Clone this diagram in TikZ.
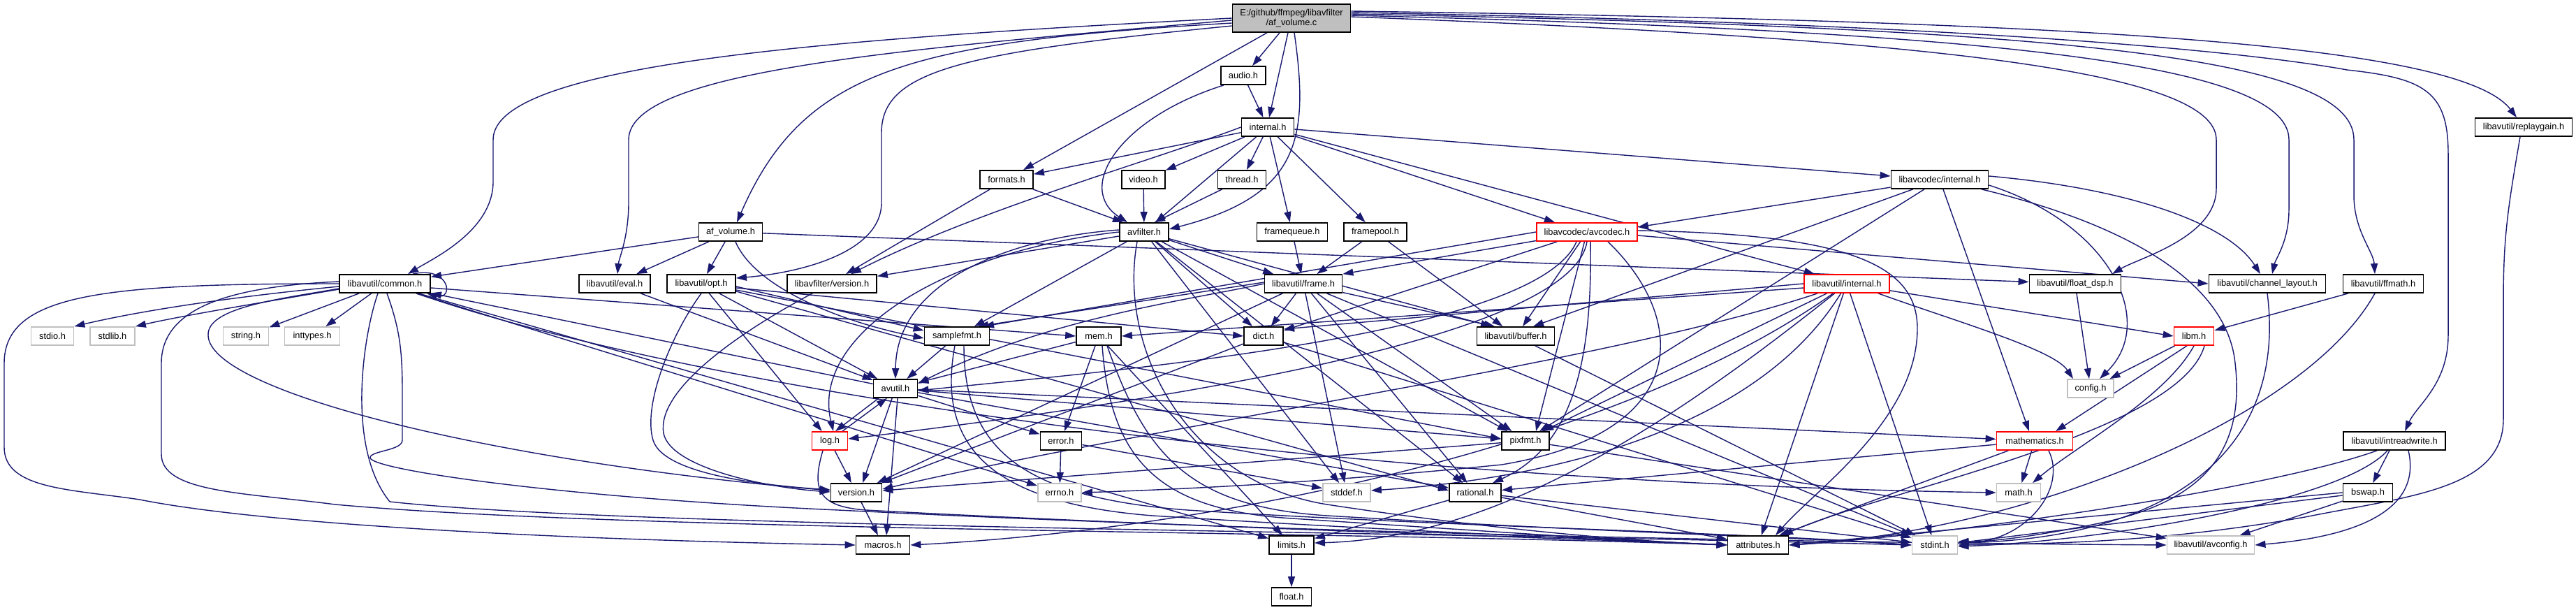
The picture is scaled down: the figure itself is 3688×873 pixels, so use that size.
\documentclass[tikz,border=0pt]{standalone}
\usepackage{fontspec}
\setmainfont{Liberation Sans}
\usetikzlibrary{arrows.meta}
\definecolor{eb}{RGB}{25,25,112}
\definecolor{sysg}{RGB}{191,191,191}
\pgfdeclarelayer{bg}
\pgfsetlayers{bg,main}
\newcommand{\dxf}{\fontsize{3.65}{4.0}\selectfont}
\begin{document}
\begin{tikzpicture}[x=0.01cm,y=-0.01cm,
  nd/.style={draw=black,fill=white,line width=0.5pt,minimum height=0.26cm,inner sep=0pt,font=\dxf},
  sys/.style={nd,draw=sysg},
  trunc/.style={nd,draw=red},
  e/.style={draw=eb,line width=0.4pt,-{Triangle[length=0.15cm,width=0.1cm]}}]
\path[use as bounding box] (0,0) rectangle (3688,873);
% nodes
\node[nd,minimum width=1.69cm,minimum height=0.40cm,fill=sysg,align=center] (root) at (1849,26) {E:/github/ffmpeg/libavfilter\\/af\_volume.c};
\node[nd,minimum width=0.64cm] (audio) at (1780,108) {audio.h};
\node[nd,minimum width=0.75cm] (internal) at (1815,182) {internal.h};
\node[nd,minimum width=0.76cm] (formats) at (1441,257) {formats.h};
\node[nd,minimum width=0.62cm] (video) at (1637,257) {video.h};
\node[nd,minimum width=0.69cm] (thread) at (1778,257) {thread.h};
\node[nd,minimum width=0.91cm] (afvolh) at (1046,332) {af\_volume.h};
\node[nd,minimum width=0.70cm] (avfilter) at (1638,332) {avfilter.h};
\node[nd,minimum width=1.01cm] (framequeue) at (1850,332) {framequeue.h};
\node[nd,minimum width=0.90cm] (framepool) at (1969,332) {framepool.h};
\node[trunc,minimum width=1.44cm] (avcodec) at (2272,332) {libavcodec/avcodec.h};
\node[nd,minimum width=1.39cm] (lcinternal) at (2777,257) {libavcodec/internal.h};
\node[nd,minimum width=1.39cm] (replaygain) at (3613,182) {libavutil/replaygain.h};
\node[nd,minimum width=1.30cm] (common) at (551,406) {libavutil/common.h};
\node[nd,minimum width=1.02cm] (eval) at (880,406) {libavutil/eval.h};
\node[nd,minimum width=0.98cm] (opt) at (1004,406) {libavutil/opt.h};
\node[nd,minimum width=1.28cm] (lfversion) at (1191,406) {libavfilter/version.h};
\node[nd,minimum width=1.11cm] (frame) at (1866,406) {libavutil/frame.h};
\node[trunc,minimum width=1.22cm] (luinternal) at (2644,406) {libavutil/internal.h};
\node[nd,minimum width=1.31cm] (floatdsp) at (2971,406) {libavutil/float\_dsp.h};
\node[nd,minimum width=1.67cm] (chlayout) at (3246,406) {libavutil/channel\_layout.h};
\node[nd,minimum width=1.15cm] (ffmath) at (3412,406) {libavutil/ffmath.h};
\node[sys,minimum width=0.61cm] (stdio) at (75,481) {stdio.h};
\node[sys,minimum width=0.64cm] (stdlib) at (161,481) {stdlib.h};
\node[sys,minimum width=0.65cm] (string) at (352,481) {string.h};
\node[sys,minimum width=0.79cm] (inttypes) at (447,481) {inttypes.h};
\node[nd,minimum width=0.93cm] (samplefmt) at (1370,481) {samplefmt.h};
\node[nd,minimum width=0.64cm] (mem) at (1573,481) {mem.h};
\node[nd,minimum width=0.56cm] (dict) at (1809,481) {dict.h};
\node[nd,minimum width=1.11cm] (buffer) at (2170,481) {libavutil/buffer.h};
\node[trunc,minimum width=0.57cm] (libm) at (3141,481) {libm.h};
\node[nd,minimum width=0.63cm] (avutil) at (1282,556) {avutil.h};
\node[sys,minimum width=0.66cm] (config) at (2993,556) {config.h};
\node[trunc,minimum width=0.51cm] (log) at (1188,631) {log.h};
\node[nd,minimum width=0.59cm] (error) at (1519,631) {error.h};
\node[nd,minimum width=0.68cm] (pixfmt) at (2184,631) {pixfmt.h};
\node[trunc,minimum width=1.09cm] (mathematics) at (2913,631) {mathematics.h};
\node[nd,minimum width=1.46cm] (intreadwrite) at (3428,631) {libavutil/intreadwrite.h};
\node[nd,minimum width=0.73cm] (version) at (1226,705) {version.h};
\node[sys,minimum width=0.62cm] (errno) at (1517,705) {errno.h};
\node[sys,minimum width=0.68cm] (stddef) at (1928,705) {stddef.h};
\node[nd,minimum width=0.74cm] (rational) at (2112,705) {rational.h};
\node[sys,minimum width=0.63cm] (math) at (2890,705) {math.h};
\node[nd,minimum width=0.71cm] (bswap) at (3390,705) {bswap.h};
\node[nd,minimum width=0.77cm] (macros) at (1264,780) {macros.h};
\node[nd,minimum width=0.64cm] (limits) at (1849,780) {limits.h};
\node[nd,minimum width=0.87cm] (attributes) at (2517,780) {attributes.h};
\node[sys,minimum width=0.65cm] (stdint) at (2770,780) {stdint.h};
\node[sys,minimum width=1.25cm] (avconfig) at (3165,780) {libavutil/avconfig.h};
\node[nd,minimum width=0.57cm] (float) at (1849,854) {float.h};
\begin{pgfonlayer}{bg}
\fill[white] (0,0) rectangle (3688,873);
% root
\draw[e] (root.west) .. controls (1200,55) and (706,90) .. (706,200) -- (706,260) .. controls (706,330) and (620,370) .. ([xshift=0.33cm]common.north);
\draw[e] ([yshift=-0.03cm]root.west) .. controls (1300,70) and (900,100) .. (900,200) -- (900,290) .. controls (900,340) and (886,370) .. ([xshift=0.04cm]eval.north);
\draw[e] ([yshift=-0.07cm]root.west) .. controls (1300,60) and (1150,100) .. ([xshift=0.09cm]afvolh.north);
\draw[e] ([yshift=-0.11cm]root.west) .. controls (1380,75) and (1262,100) .. (1262,190) -- (1262,290) .. controls (1262,360) and (1150,390) .. ([yshift=0.08cm]opt.east);
\draw[e] ([xshift=-0.35cm]root.south) -- ([xshift=0.24cm]formats.north);
\draw[e] ([xshift=-0.17cm]root.south) -- ([xshift=0.13cm]audio.north);
\draw[e] ([xshift=-0.05cm]root.south) -- ([xshift=0.02cm]internal.north);
\draw[e] ([xshift=0.04cm]root.south) .. controls (1875,200) and (1860,280) .. ([yshift=0.04cm]avfilter.east);
\draw[e] ([yshift=0.02cm]root.east) .. controls (2750,55) and (3173,100) .. (3173,200) -- (3173,270) .. controls (3173,340) and (3060,370) .. ([xshift=0.53cm]floatdsp.north);
\draw[e] ([yshift=0.04cm]root.east) .. controls (2850,45) and (3277,90) .. (3277,200) -- (3277,300) .. controls (3277,345) and (3258,370) .. ([xshift=0.07cm]chlayout.north);
\draw[e] ([yshift=0.06cm]root.east) .. controls (2950,40) and (3370,80) .. (3370,200) -- (3370,280) .. controls (3370,330) and (3398,360) .. ([xshift=-0.12cm]ffmath.north);
\draw[e] ([yshift=0.08cm]root.east) .. controls (2900,35) and (3250,80) .. (3360,100) .. controls (3470,112) and (3505,130) .. (3505,220) -- (3505,480) .. controls (3505,550) and (3460,580) .. ([xshift=0.15cm]intreadwrite.north);
\draw[e] ([yshift=0.1cm]root.east) .. controls (2950,30) and (3520,60) .. ([xshift=-0.1cm]replaygain.north);
% audio
\draw[e] (audio) -- (internal);
\draw[e] ([xshift=-0.28cm]audio.south) .. controls (1600,170) and (1540,270) .. ([xshift=-0.24cm]avfilter.north);
% internal
\draw[e] (internal) -- (formats);
\draw[e] (internal.west) .. controls (1650,230) and (1400,300) .. ([xshift=0.27cm]lfversion.north);
\draw[e] (internal) -- (video);
\draw[e] (internal) -- (thread);
\draw[e] (internal) -- (avfilter);
\draw[e] (internal) -- (framequeue);
\draw[e] (internal) -- (framepool);
\draw[e] (internal) -- ([xshift=-0.46cm]avcodec.north);
\draw[e] (internal) -- ([yshift=0.05cm]lcinternal.west);
\draw[e] (internal) -- ([xshift=-0.46cm]luinternal.north);
% formats, video, thread
\draw[e] (formats) -- ([xshift=-0.3cm]avfilter.north);
\draw[e] (formats) -- ([xshift=0.2cm]lfversion.north);
\draw[e] (video) -- (avfilter);
\draw[e] (thread) -- ([xshift=0.15cm]avfilter.north);
% af_volume.h
\draw[e] (afvolh) -- (common);
\draw[e] (afvolh) -- (eval);
\draw[e] (afvolh) -- (opt);
\draw[e] (afvolh) -- (floatdsp);
\draw[e] ([xshift=0.07cm]afvolh.south) .. controls (1080,410) and (1200,460) .. ([yshift=-0.03cm]samplefmt.west);
% common
\draw[e] ([xshift=0.4cm]common.north) .. controls (645,380) and (650,430) .. ([xshift=0.6cm]common.south);
\draw[e] ([yshift=-0.04cm]common.west) .. controls (330,425) and (200,445) .. (stdio.north east);
\draw[e] ([yshift=-0.08cm]common.west) .. controls (380,432) and (260,452) .. (stdlib.north east);
\draw[e] (common) -- (string);
\draw[e] (common) -- (inttypes);
\draw[e] (common.west) .. controls (150,406) and (6,420) .. (6,520) -- (6,640) .. controls (6,700) and (100,700) .. (200,715) .. controls (350,745) and (700,770) .. (macros.west);
\draw[e] ([yshift=0.03cm]common.west) .. controls (330,410) and (231,440) .. (231,520) -- (231,650) .. controls (231,705) and (350,705) .. (480,722) .. controls (900,760) and (1900,760) .. (attributes.west);
\draw[e] ([yshift=-0.07cm]common.west) .. controls (400,428) and (296,440) .. (298,480) .. controls (300,560) and (700,660) .. ([yshift=0.03cm]version.west);
\draw[e] ([xshift=-0.1cm]common.south) .. controls (520,480) and (495,640) .. (558,718) .. controls (900,755) and (2000,760) .. (stdint.west);
\draw[e] ([xshift=0.03cm]common.south) .. controls (572,470) and (576,500) .. (576,560) -- (576,630) .. controls (576,645) and (530,645) .. (530,655) .. controls (530,672) and (800,712) .. (1200,730) .. controls (2000,770) and (2800,778) .. (avconfig.west);
\draw[e] (common) -- (errno);
\draw[e] (common) -- (limits);
\draw[e] ([xshift=0.45cm]common.south) .. controls (1000,560) and (1900,690) .. (math.west);
\draw[e] ([yshift=-0.06cm]common.east) -- (mem.west);
% eval, opt
\draw[e] (eval) -- (avutil);
\draw[e] ([yshift=-0.04cm]opt.east) -- ([yshift=0.08cm]samplefmt.west);
\draw[e] (opt) -- (avutil);
\draw[e] (opt) -- (log);
\draw[e] (opt.south) .. controls (960,480) and (920,580) .. (935,630) .. controls (950,680) and (1100,695) .. ([yshift=0.04cm]version.west);
\draw[e] ([yshift=-0.06cm]opt.east) -- (dict.west);
\draw[e] ([yshift=-0.09cm]opt.east) -- ([yshift=0.03cm]pixfmt.west);
\draw[e] ([yshift=-0.11cm]opt.east) -- ([yshift=0.03cm]rational.west);
% libavfilter/version.h
\draw[e] ([xshift=-0.28cm]lfversion.south) .. controls (1050,480) and (940,560) .. (950,620) .. controls (960,670) and (1100,698) .. ([yshift=0.01cm]version.west);
% avfilter.h
\draw[e] (avfilter) -- (lfversion);
\draw[e] (avfilter) -- (samplefmt);
\draw[e] ([yshift=0.03cm]avfilter.west) .. controls (1450,340) and (1283,400) .. (avutil.north);
\draw[e] (avfilter.west) .. controls (1350,360) and (1160,480) .. ([xshift=0.05cm]log.north);
\draw[e] (avfilter) -- (frame);
\draw[e] (avfilter) -- (dict);
\draw[e] (avfilter) -- ([xshift=-0.35cm]buffer.north);
\draw[e] (avfilter) -- (pixfmt);
\draw[e] (avfilter) -- (rational);
\draw[e] (avfilter) -- (stddef);
\draw[e] ([xshift=-0.1cm]avfilter.south) .. controls (1600,500) and (1700,690) .. (1900,722) .. controls (2150,760) and (2350,775) .. (attributes.west);
% frame.h
\draw[e] ([yshift=0.02cm]frame.west) -- ([xshift=0.3cm]samplefmt.north);
\draw[e] (frame.west) .. controls (1700,430) and (1500,455) .. ([yshift=0.07cm]avutil.east);
\draw[e] (frame) -- (dict);
\draw[e] (frame) -- ([xshift=-0.3cm]buffer.north);
\draw[e] (frame) -- (pixfmt);
\draw[e] (frame) -- (rational);
\draw[e] (frame) -- (stddef);
\draw[e] (frame) -- (stdint);
\draw[e] (frame) -- (version);
\draw[e] (framequeue) -- (frame);
\draw[e] (framepool) -- (frame);
\draw[e] (framepool) -- (buffer);
% avcodec.h
\draw[e] (avcodec.west) -- ([xshift=0.38cm]samplefmt.north);
\draw[e] (avcodec) -- (frame.north east);
\draw[e] (avcodec) -- ([yshift=0.08cm]dict.east);
\draw[e] (avcodec) -- ([xshift=0.1cm]buffer.north);
\draw[e] ([xshift=-0.15cm]avcodec.south) .. controls (2200,480) and (1600,530) .. ([yshift=-0.03cm]avutil.east);
\draw[e] (avcodec.south) .. controls (2250,480) and (1700,570) .. ([yshift=0.03cm]log.east);
\draw[e] (avcodec) -- ([xshift=0.15cm]pixfmt.north);
\draw[e] ([xshift=0.05cm]avcodec.south) .. controls (2280,520) and (2250,640) .. ([xshift=0.25cm]rational.north);
\draw[e] ([yshift=0.02cm]avcodec.east) .. controls (2650,335) and (2745,380) .. (2745,470) .. controls (2745,600) and (2600,700) .. ([xshift=0.25cm]attributes.north);
\draw[e] ([yshift=-0.05cm]avcodec.east) -- (chlayout.west);
\draw[e] ([xshift=0.3cm]avcodec.south) .. controls (2420,460) and (2420,620) .. (2150,665) .. controls (1900,690) and (1700,700) .. (errno.east);
% libavcodec/internal.h
\draw[e] (lcinternal) -- ([yshift=0.07cm]avcodec.east);
\draw[e] (lcinternal) -- ([xshift=0.25cm]buffer.north);
\draw[e] (lcinternal) -- ([xshift=0.2cm]pixfmt.north);
\draw[e] (lcinternal) -- ([xshift=-0.08cm]mathematics.north);
\draw[e] ([yshift=-0.08cm]lcinternal.east) .. controls (3020,320) and (3090,460) .. ([xshift=0.13cm]config.north);
\draw[e] ([xshift=0.6cm]lcinternal.south) .. controls (3080,330) and (3190,420) .. (3200,520) .. controls (3215,650) and (3150,720) .. (3000,750) .. controls (2900,770) and (2850,775) .. ([yshift=0.05cm]stdint.east);
\draw[e] ([yshift=0.05cm]lcinternal.east) .. controls (3050,270) and (3190,320) .. ([xshift=-0.1cm]chlayout.north);
% libavutil/internal.h
\draw[e] (luinternal.west) -- ([yshift=0.1cm]dict.east);
\draw[e] ([yshift=-0.06cm]luinternal.west) -- (mem.east);
\draw[e] (luinternal) -- (libm.west);
\draw[e] ([xshift=0.45cm]luinternal.south) .. controls (2800,460) and (2940,500) .. ([xshift=-0.25cm]config.north);
\draw[e] (luinternal) -- ([xshift=0.25cm]pixfmt.north);
\draw[e] (luinternal) .. controls (2300,520) and (1700,600) .. ([yshift=0.05cm]version.east);
\draw[e] (luinternal) .. controls (2300,650) and (1700,760) .. (macros.east);
\draw[e] (luinternal) .. controls (2400,600) and (2150,770) .. ([yshift=0.03cm]limits.east);
\draw[e] (luinternal) .. controls (2500,640) and (2150,690) .. ([yshift=0.03cm]stddef.east);
\draw[e] (luinternal) -- (attributes);
\draw[e] (luinternal) -- (stdint);
% mem.h
\draw[e] (mem) -- (avutil);
\draw[e] (mem) -- (error);
\draw[e] (mem) -- (limits);
\draw[e] ([xshift=0.12cm]mem.south) .. controls (1640,650) and (1700,725) .. (1900,738) .. controls (2300,762) and (2600,770) .. (stdint.west);
\draw[e] ([xshift=0.05cm]mem.south) .. controls (1590,660) and (1660,730) .. (1850,742) .. controls (2200,765) and (2350,775) .. (attributes.west);
% dict, samplefmt, buffer
\draw[e] (dict) -- (version);
\draw[e] (dict) -- (stdint);
\draw[e] (samplefmt) -- (avutil);
\draw[e] ([xshift=-0.03cm]samplefmt.south) .. controls (1340,640) and (1420,720) .. (1650,738) .. controls (2000,760) and (2300,772) .. (attributes.west);
\draw[e] ([xshift=0.1cm]samplefmt.south) .. controls (1380,640) and (1460,712) .. (1700,730) .. controls (2100,755) and (2500,762) .. (stdint.west);
\draw[e] (buffer) -- (stdint);
% avutil.h
\draw[e] (avutil) -- (common);
\draw[e] ([xshift=-0.24cm]avutil.south) -- ([xshift=0.08cm]log.north);
\draw[e] (avutil) -- ([xshift=0.09cm]version.north);
\draw[e] ([xshift=0.03cm]avutil.south) -- ([xshift=0.05cm]macros.north);
\draw[e] (avutil) -- (error);
\draw[e] (avutil) -- (rational);
\draw[e] (avutil) -- (pixfmt);
\draw[e] (avutil) -- (mathematics);
% log.h
\draw[e] ([xshift=0.18cm]log.north) -- ([xshift=-0.12cm]avutil.south);
\draw[e] (log) -- (version);
\draw[e] ([xshift=-0.1cm]log.south) .. controls (1162,700) and (1170,725) .. (1240,730) .. controls (1700,755) and (2300,772) .. (attributes.west);
% version, error, pixfmt, rational
\draw[e] (version) -- (macros);
\draw[e] (error) -- (errno);
\draw[e] (error) -- (stddef);
\draw[e] (pixfmt) -- (version);
\draw[e] (pixfmt) -- (avconfig);
\draw[e] (rational) -- (stdint);
\draw[e] (rational) -- (limits);
\draw[e] (rational) -- (attributes);
% mathematics.h
\draw[e] (mathematics) -- (rational);
\draw[e] (mathematics) -- (math);
\draw[e] (mathematics) -- ([xshift=0.3cm]attributes.north);
\draw[e] ([xshift=0.2cm]mathematics.south) .. controls (2960,700) and (2900,775) .. ([yshift=0.03cm]stdint.east);
% libm.h
\draw[e] (libm) -- (config);
\draw[e] ([xshift=-0.1cm]libm.south) -- ([xshift=0.3cm]mathematics.north);
\draw[e] (libm.south) .. controls (3100,570) and (2970,640) .. ([xshift=0.2cm]math.north);
\draw[e] ([xshift=0.15cm]libm.south) .. controls (3120,620) and (2700,700) .. ([xshift=0.35cm]attributes.north);
% ffmath, float_dsp, channel_layout, replaygain
\draw[e] (ffmath) -- (libm);
\draw[e] ([xshift=-0.12cm]ffmath.south) .. controls (3300,600) and (2900,760) .. (attributes.east);
\draw[e] (floatdsp) -- (config);
\draw[e] (chlayout.south) .. controls (3275,650) and (3100,770) .. ([yshift=0.03cm]stdint.east);
\draw[e] ([xshift=-0.05cm]replaygain.south) .. controls (3590,300) and (3584,340) .. (3584,430) -- (3584,600) .. controls (3584,700) and (3450,710) .. (3300,740) .. controls (3100,775) and (2950,778) .. (stdint.east);
% intreadwrite, bswap
\draw[e] ([xshift=-0.25cm]intreadwrite.south) .. controls (3250,700) and (2800,765) .. (attributes.east);
\draw[e] ([xshift=-0.1cm]intreadwrite.south) .. controls (3350,720) and (3000,775) .. ([yshift=-0.02cm]stdint.east);
\draw[e] (intreadwrite) -- (bswap);
\draw[e] ([xshift=0.2cm]intreadwrite.south) .. controls (3470,740) and (3350,770) .. (avconfig.east);
\draw[e] (bswap.west) -- (attributes.east);
\draw[e] ([yshift=-0.04cm]bswap.west) -- ([yshift=0.03cm]stdint.east);
\draw[e] (bswap) -- (avconfig);
% limits
\draw[e] (limits) -- (float);
\end{pgfonlayer}
\end{tikzpicture}
\end{document}
